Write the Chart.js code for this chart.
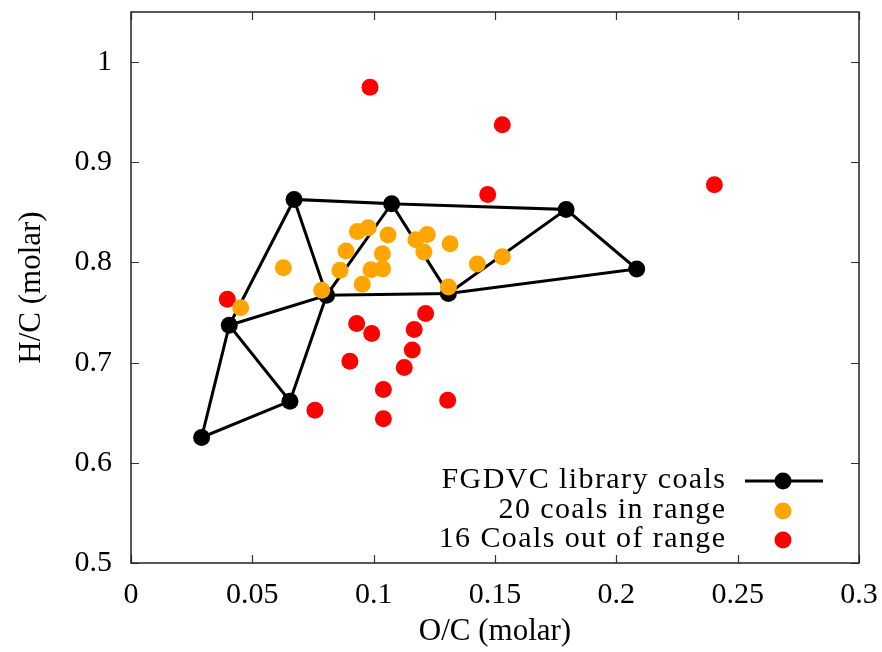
<!DOCTYPE html>
<html><head><meta charset="utf-8">
<script src="https://cdn.jsdelivr.net/npm/chart.js@4/dist/chart.umd.min.js"></script>
<style>html,body{margin:0;padding:0;background:#fff}#wrap{width:882px;height:652px;position:relative}</style>
</head><body><div id="wrap"><canvas id="c" width="882" height="652"></canvas></div>
<script>
// ---- data ----
const xTicks = [0, 0.05, 0.1, 0.15, 0.2, 0.25, 0.3];
const yTicks = [0.5, 0.6, 0.7, 0.8, 0.9, 1];

// FGDVC library coals (A..I)
const libX = [0.0291, 0.0405, 0.0655, 0.0672, 0.0806, 0.1074, 0.1308, 0.1793, 0.2084];
const libY = [0.6253, 0.7373, 0.6615, 0.8629, 0.7672, 0.8586, 0.7689, 0.8529, 0.7934];
// mesh edges traversed as two paths (indices into lib arrays)
const libPath1 = [2, 0, 1, 2, 4, 1, 3];
const libPath2 = [4, 3, 5, 4, 6, 5, 7, 6, 8, 7];

// 20 coals in range
const inX = [0.0452, 0.0628, 0.0786, 0.0861, 0.0886, 0.0933, 0.0978, 0.1059, 0.1036, 0.0989,
             0.1037, 0.0953, 0.1174, 0.1221, 0.1207, 0.1315, 0.1427, 0.1530, 0.1308];
const inY = [0.7549, 0.7948, 0.7722, 0.7921, 0.8114, 0.8310, 0.8347, 0.8273, 0.8088, 0.7928,
             0.7936, 0.7782, 0.8227, 0.8278, 0.8104, 0.8187, 0.7984, 0.8056, 0.7755];

// 16 coals out of range
const outX = [0.0397, 0.0985, 0.1530, 0.1470, 0.2404, 0.0930, 0.0992, 0.1214, 0.1167, 0.1159,
              0.1126, 0.0902, 0.1040, 0.1040, 0.0758, 0.1305];
const outY = [0.7632, 0.9749, 0.9374, 0.8679, 0.8776, 0.7390, 0.7290, 0.7490, 0.7330, 0.7127,
              0.6951, 0.7014, 0.6732, 0.6439, 0.6525, 0.6625];

const legendLabels = ['FGDVC library coals', '20 coals in range', '16 Coals out of range'];
const xTitle = 'O/C (molar)';
const yTitle = 'H/C (molar)';

// ---- build ----
const zip = (xs, ys) => xs.map((x, i) => ({x: x, y: ys[i]}));
const pathPts = [];
libPath1.forEach(i => pathPts.push({x: libX[i], y: libY[i]}));
pathPts.push({x: libX[libPath1[libPath1.length - 1]], y: null});
libPath2.forEach(i => pathPts.push({x: libX[i], y: libY[i]}));

const FONT = 'Liberation Serif';
const ORANGE = '#ffa500', RED = '#ff0000', BLACK = '#000000';

const frameTicks = {
  id: 'frameTicks',
  afterDatasetsDraw(chart) {
    const {ctx, chartArea: a, scales} = chart;
    ctx.save();
    ctx.strokeStyle = '#333';
    ctx.lineWidth = 1.2;
    ctx.beginPath();
    xTicks.forEach(v => {
      const px = Math.round(scales.x.getPixelForValue(v)) + 0.5;
      ctx.moveTo(px, a.bottom); ctx.lineTo(px, a.bottom - 8);
      ctx.moveTo(px, a.top); ctx.lineTo(px, a.top + 8);
    });
    yTicks.forEach(v => {
      const py = Math.round(scales.y.getPixelForValue(v)) + 0.5;
      ctx.moveTo(a.left, py); ctx.lineTo(a.left + 8, py);
      ctx.moveTo(a.right, py); ctx.lineTo(a.right - 8, py);
    });
    ctx.stroke();
    ctx.strokeStyle = '#222';
    ctx.lineWidth = 1.5;
    ctx.strokeRect(a.left, a.top, a.right - a.left, a.bottom - a.top);
    ctx.restore();
  }
};

const legendPlugin = {
  id: 'customLegend',
  afterDraw(chart) {
    const {ctx, chartArea: a} = chart;
    const textRight = a.right - 134;
    const rows = [a.bottom - 82, a.bottom - 52, a.bottom - 23];
    ctx.save();
    ctx.font = '30px "' + FONT + '"';
    try { ctx.letterSpacing = '1.4px'; } catch (e) {}
    ctx.textAlign = 'right';
    ctx.textBaseline = 'middle';
    ctx.fillStyle = '#000';
    legendLabels.forEach((t, i) => ctx.fillText(t, textRight + 1.4, rows[i] - 1));
    try { ctx.letterSpacing = '0px'; } catch (e) {}
    const px = a.right - 76;
    ctx.strokeStyle = BLACK; ctx.lineWidth = 3;
    ctx.beginPath(); ctx.moveTo(a.right - 114, rows[0]); ctx.lineTo(a.right - 36, rows[0]); ctx.stroke();
    const dot = (y, c) => { ctx.fillStyle = c; ctx.beginPath(); ctx.arc(px, y, 8.5, 0, Math.PI * 2); ctx.fill(); };
    dot(rows[0], BLACK); dot(rows[1], ORANGE); dot(rows[2], RED);
    ctx.restore();
  }
};

new Chart(document.getElementById('c'), {
  type: 'scatter',
  data: {
    datasets: [
      {label: legendLabels[1], data: zip(inX, inY), backgroundColor: ORANGE, borderColor: ORANGE, pointRadius: 8.5, pointBorderWidth: 0, pointHoverRadius: 8.5},
      {label: legendLabels[2], data: zip(outX, outY), backgroundColor: RED, borderColor: RED, pointRadius: 8.5, pointBorderWidth: 0, pointHoverRadius: 8.5},
      {label: legendLabels[0], data: zip(libX, libY), backgroundColor: BLACK, borderColor: BLACK, pointRadius: 8.5, pointBorderWidth: 0, pointHoverRadius: 8.5},
      {label: 'mesh', data: pathPts, showLine: true, spanGaps: false, borderColor: BLACK, borderWidth: 3, pointRadius: 0, pointHoverRadius: 0, backgroundColor: BLACK}
    ]
  },
  options: {
    responsive: false,
    animation: false,
    devicePixelRatio: 1,
    layout: {padding: {top: 12, right: 23, left: 0, bottom: 0}},
    plugins: {legend: {display: false}, tooltip: {enabled: false}},
    events: [],
    scales: {
      x: {
        type: 'linear', min: 0, max: 0.3,
        afterBuildTicks: s => { s.ticks = xTicks.map(v => ({value: v})); },
        afterFit: s => { s.height = 89; s.paddingLeft = 0; s.paddingRight = 0; },
        grid: {display: false, drawTicks: false},
        border: {display: false},
        ticks: {padding: 14, color: '#000', font: {family: FONT, size: 30}, callback: v => String(v), maxRotation: 0, autoSkip: false},
        title: {display: true, text: xTitle, color: '#000', font: {family: FONT, size: 31}, padding: {top: 0, bottom: 2}}
      },
      y: {
        type: 'linear', min: 0.5, max: 1.05,
        afterBuildTicks: s => { s.ticks = yTicks.map(v => ({value: v})); },
        afterFit: s => { s.width = 131; s.paddingTop = 0; s.paddingBottom = 0; },
        grid: {display: false, drawTicks: false},
        border: {display: false},
        ticks: {padding: 19, color: '#000', font: {family: FONT, size: 30}, callback: v => String(v), autoSkip: false},
        title: {display: true, text: yTitle, color: '#000', font: {family: FONT, size: 31}, padding: {top: 13, bottom: 0}}
      }
    }
  },
  plugins: [frameTicks, legendPlugin]
});
</script></body></html>
